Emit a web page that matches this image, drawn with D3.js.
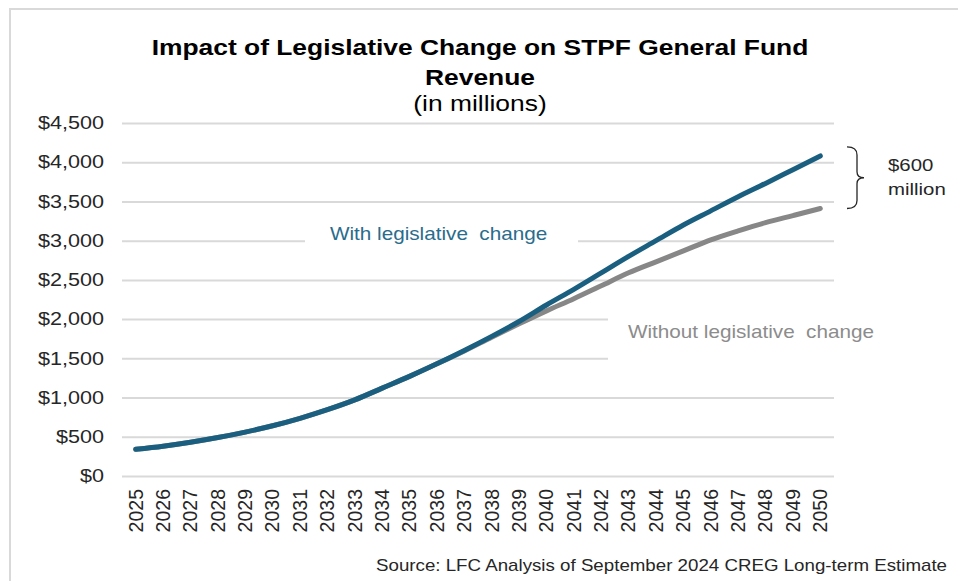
<!DOCTYPE html>
<html>
<head>
<meta charset="utf-8">
<script src="https://cdn.jsdelivr.net/npm/d3@7"></script>
<style>
  body { margin: 0; background: #fff; }
  text { font-family: "Liberation Sans", Arial, sans-serif; }
</style>
</head>
<body>
<svg id="chart" width="958" height="581"></svg>
<script>
var years = ["2025","2026","2027","2028","2029","2030","2031","2032","2033","2034","2035","2036","2037",
             "2038","2039","2040","2041","2042","2043","2044","2045","2046","2047","2048","2049","2050"];
var withChange = [340, 380, 430, 490, 560, 640, 735, 845, 970, 1120, 1270, 1430, 1600,
                  1780, 1970, 2180, 2380, 2590, 2800, 3000, 3200, 3380, 3560, 3730, 3905, 4080];
var withoutChange = [340, 380, 430, 490, 560, 640, 735, 845, 970, 1120, 1270, 1430, 1595,
                     1770, 1940, 2105, 2260, 2425, 2590, 2730, 2870, 3010, 3125, 3230, 3320, 3410];
var yTicks = [0, 500, 1000, 1500, 2000, 2500, 3000, 3500, 4000, 4500];

var svg = d3.select("#chart");
var plotLeft = 122, plotRight = 834, plotTop = 123, plotBottom = 476;
var sx = 1.2; // the reference text is a bit wide

// outer frame
svg.append("rect")
    .attr("x", 10).attr("y", 9)
    .attr("width", 960).attr("height", 600)
    .attr("fill", "none")
    .attr("stroke", "#d9d9d9")
    .attr("stroke-width", 2);

var xScale = d3.scaleBand().domain(years).range([plotLeft, plotRight]).padding(0),
    yScale = d3.scaleLinear().domain([0, 4500]).range([plotBottom, plotTop]);

function addText(x, y, str, size, opts) {
    opts = opts || {};
    var s = opts.sx || sx;
    return svg.append("text")
        .attr("x", x / s).attr("y", y)
        .attr("transform", "scale(" + s + ",1)")
        .attr("text-anchor", opts.anchor || "start")
        .attr("font-size", size + "px")
        .attr("font-weight", opts.bold ? "bold" : "normal")
        .attr("fill", opts.fill || "#262626")
        .style("white-space", "pre")
        .text(str);
}

// title
addText(480, 55, "Impact of Legislative Change on STPF General Fund", 22, {anchor: "middle", bold: true, fill: "#000"});
addText(480, 85, "Revenue", 22, {anchor: "middle", bold: true, fill: "#000"});
addText(480, 111, "(in millions)", 22, {anchor: "middle", fill: "#000"});

// y axis with gridlines
var yAxis = svg.append("g")
    .attr("transform", "translate(" + plotLeft + ",0)")
    .call(d3.axisLeft(yScale).tickValues(yTicks)
        .tickSize(-(plotRight - plotLeft))
        .tickFormat(function(d) { return "$" + d3.format(",")(d); }));
yAxis.select(".domain").remove();
yAxis.selectAll("line").attr("stroke", "#d9d9d9").attr("stroke-width", 2);
yAxis.selectAll("text")
    .attr("font-size", "18px")
    .attr("fill", "#262626")
    .attr("font-family", "Liberation Sans, Arial, sans-serif")
    .attr("x", -18 / sx)
    .attr("transform", "scale(" + sx + ",1)");

// x axis
var xAxis = svg.append("g")
    .attr("transform", "translate(0," + plotBottom + ")")
    .call(d3.axisBottom(xScale).tickSize(0));
xAxis.select(".domain").remove();
xAxis.selectAll("text")
    .attr("font-size", "19.5px")
    .attr("fill", "#262626")
    .attr("font-family", "Liberation Sans, Arial, sans-serif")
    .attr("text-anchor", "end")
    .attr("transform", "rotate(-90)")
    .attr("x", -13)
    .attr("y", 0)
    .attr("dy", "0.35em");

// label backgrounds (hide gridlines behind the labels)
svg.append("rect").attr("x", 305).attr("y", 222).attr("width", 273).attr("height", 26).attr("fill", "#fff");
svg.append("rect").attr("x", 608).attr("y", 310).attr("width", 280).attr("height", 55).attr("fill", "#fff");

var line = d3.line()
    .x(function(d, i) { return xScale(years[i]) + xScale.bandwidth() / 2; })
    .y(function(d) { return yScale(d); })
    .curve(d3.curveMonotoneX);

svg.append("path")
    .datum(withoutChange)
    .attr("d", line)
    .attr("fill", "none")
    .attr("stroke", "#878787")
    .attr("stroke-width", 5)
    .attr("stroke-linecap", "round");

svg.append("path")
    .datum(withChange)
    .attr("d", line)
    .attr("fill", "none")
    .attr("stroke", "#1a5f80")
    .attr("stroke-width", 5)
    .attr("stroke-linecap", "round");

// series labels
addText(330, 240, "With legislative  change", 18, {fill: "#2a6c8c", sx: 1.15});
addText(628, 338, "Without legislative  change", 18, {fill: "#8c8c8c", sx: 1.15});

// $600 million bracket
var yTop = yScale(withChange[withChange.length - 1]) - 9,
    yBot = yScale(withoutChange[withoutChange.length - 1]),
    yMid = (yTop + yBot) / 2;
svg.append("path")
    .attr("d", "M847," + yTop + " Q857," + yTop + " 857," + (yTop + 8) +
               " L857," + (yMid - 6) + " Q857," + yMid + " 864," + yMid +
               " Q857," + yMid + " 857," + (yMid + 6) +
               " L857," + (yBot - 8) + " Q857," + yBot + " 847," + yBot)
    .attr("fill", "none")
    .attr("stroke", "#262626")
    .attr("stroke-width", 1.3);
addText(888, 171, "$600", 17);
addText(888, 195, "million", 17);

// source
addText(947, 571, "Source: LFC Analysis of September 2024 CREG Long-term Estimate", 16, {anchor: "end", sx: 1.17});
</script>
</body>
</html>
